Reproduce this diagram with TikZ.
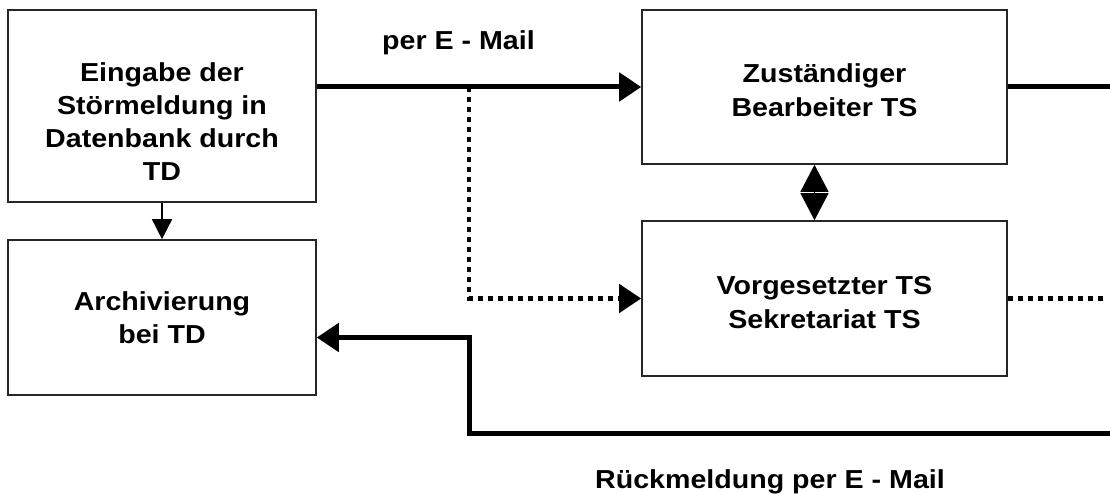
\documentclass[tikz,border=0pt]{standalone}
\usepackage{fontspec}
\setmainfont{Liberation Sans}[FakeStretch=1.1]
\usetikzlibrary{arrows.meta}

\begin{document}
\begin{tikzpicture}[x=1pt,y=-1pt]
\useasboundingbox (0,0) rectangle (1110,494);
\begin{scope}
\tikzstyle{every node}=[shape=rectangle, align=center, font=\bfseries\fontsize{26}{33}\selectfont];
\tikzstyle{box}=[draw=black!85, line width=1.6pt];
\tikzstyle{weit}=[font=\bfseries\fontsize{26}{34}\selectfont];
\tikzstyle{post}=[line width=5pt];
\tikzstyle{punkt}=[line width=4.5pt, dash pattern=on 5pt off 5pt];
\tikzstyle{spitze}=[-{Triangle[length=22pt,width=28pt]}];
\draw (162,106) node[box, minimum width=308pt, minimum height=192pt] (eing) {\rule{0pt}{50pt}Eingabe der\\ Störmeldung in\\ Datenbank durch\\ TD};
\draw (162,317.5) node[box, minimum width=308pt, minimum height=155pt] (arch) {Archivierung\\ bei TD};
\draw (824.5,87) node[box, weit, minimum width=365pt, minimum height=154pt] (bearb) {\rule{0pt}{26pt}Zuständiger\\ Bearbeiter TS};
\draw (824.5,298.5) node[box, weit, minimum width=365pt, minimum height=155pt] (vorg) {\rule{0pt}{26pt}Vorgesetzter TS\\ Sekretariat TS};
\draw (382,50) node[anchor=base west, inner sep=0pt] (mail1) {per E - Mail};
\draw (595,488) node[anchor=base west, inner sep=0pt] (mail2) {Rückmeldung per E - Mail};
\coordinate (abzw) at (469,87);
\coordinate (aus1) at (1110,87);
\coordinate (aus2) at (1104,298.5);
\coordinate (ein) at (1110,433);
\coordinate (knick) at (469,433);
\draw[line width=1.5pt, -{Triangle[length=20pt,width=20pt]}] (eing) -- (arch);
\draw[post, spitze] (eing.east |- bearb.west) -- (bearb.west);
\draw[post] (bearb.east) -- (aus1);
\draw[punkt, spitze] (abzw) |- (vorg.west);
\draw[punkt] (vorg.east) -- (aus2);
\draw[post, spitze] (ein) -- (knick) |- ([yshift=-20pt]arch.east);
\draw[line width=1pt, {Triangle[length=27pt,width=28pt]}-{Triangle[length=27pt,width=28pt]}] ([xshift=-10pt]bearb.south) -- ([xshift=-10pt]vorg.north);
\end{scope}
\end{tikzpicture}
\end{document}
